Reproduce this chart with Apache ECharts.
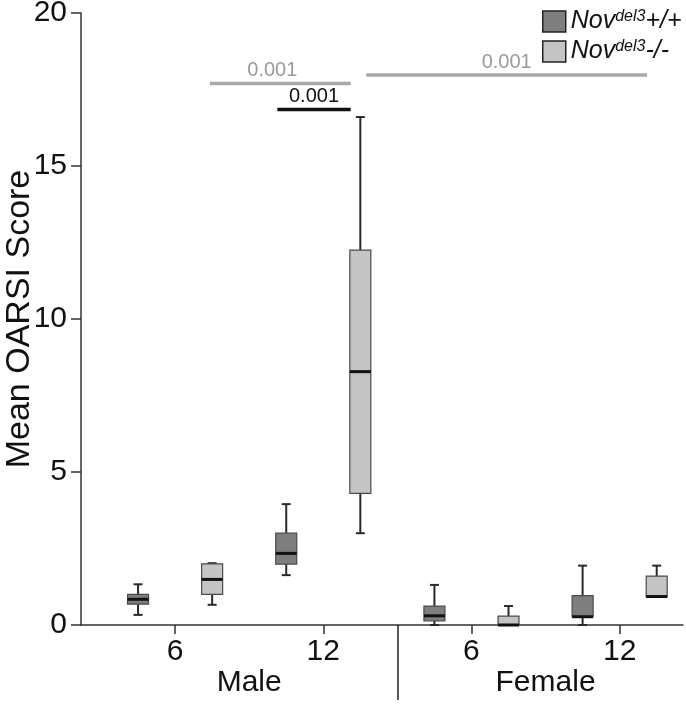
<!DOCTYPE html>
<html>
<head>
<meta charset="utf-8">
<script src="https://cdn.jsdelivr.net/npm/echarts@6/dist/echarts.min.js"></script>
<style>html,body{margin:0;padding:0;background:#fff}#c{width:686px;height:704px}</style>
</head>
<body>
<div id="c"></div>
<script>
// ---- data ----
const ageLabels = ['6', '12', '6', '12'];          // tick labels per group
const sexLabels = ['Male', 'Female'];
const groupPos = [0, 2, 4, 6];                        // group centres on x scale
const sexPos = [1, 5];
const dividerPos = [3];
// boxes: [min, q1, median, q3, max]
const wtBoxes = [
  [0.33, 0.68, 0.84, 1.00, 1.33],
  [1.63, 1.99, 2.34, 3.00, 3.95],
  [0.00, 0.13, 0.30, 0.62, 1.31],
  [0.00, 0.27, 0.27, 0.96, 1.94]
];
const koBoxes = [
  [0.66, 1.00, 1.49, 2.00, 2.02],
  [3.00, 4.30, 8.28, 12.25, 16.60],
  [0.00, 0.00, 0.00, 0.29, 0.62],
  [0.93, 0.93, 0.93, 1.60, 1.94]
];
// significance brackets (x from, x to, y level, label)
const brFrom = [0.47, 1.38, 2.58];
const brTo = [2.37, 2.37, 6.37];
const brY = [17.70, 16.85, 17.97];
const brLabel = ['0.001', '0.001', '0.001'];
const brDark = [false, true, false];

const FONT = 'Liberation Sans, Arial, Helvetica, sans-serif';
const DARK = '#7e7e7e', LIGHT = '#c4c4c4';
const XMIN = -1.27, XMAX = 6.855;

function boxData(arr, off) {
  return arr.map((b, i) => [groupPos[i] + off].concat(b));
}

function renderBox(params, api) {
  const x = api.value(0);
  const pMin = api.coord([x, api.value(1)]);
  const pQ1 = api.coord([x, api.value(2)]);
  const pMed = api.coord([x, api.value(3)]);
  const pQ3 = api.coord([x, api.value(4)]);
  const pMax = api.coord([x, api.value(5)]);
  const cx = pMin[0];
  const bw = 21, cw = 9;
  const ws = { stroke: '#2a2a2a', lineWidth: 2 };
  return {
    type: 'group',
    children: [
      { type: 'line', shape: { x1: cx, y1: pMin[1], x2: cx, y2: pQ1[1] }, style: ws },
      { type: 'line', shape: { x1: cx, y1: pQ3[1], x2: cx, y2: pMax[1] }, style: ws },
      { type: 'line', shape: { x1: cx - cw / 2, y1: pMin[1], x2: cx + cw / 2, y2: pMin[1] }, style: ws },
      { type: 'line', shape: { x1: cx - cw / 2, y1: pMax[1], x2: cx + cw / 2, y2: pMax[1] }, style: ws },
      { type: 'rect', shape: { x: cx - bw / 2, y: pQ3[1], width: bw, height: Math.max(pQ1[1] - pQ3[1], 0.5) },
        style: { fill: api.visual('color'), stroke: '#4a4a4a', lineWidth: 1.2 } },
      { type: 'line', shape: { x1: cx - bw / 2, y1: pMed[1], x2: cx + bw / 2, y2: pMed[1] },
        style: { stroke: '#111', lineWidth: 3 } }
    ]
  };
}

function renderBracket(params, api) {
  const i = params.dataIndex;
  const a = api.coord([api.value(0), api.value(2)]);
  const b = api.coord([api.value(1), api.value(2)]);
  const col = brDark[i] ? '#111' : '#a8a8a8';
  const tcol = brDark[i] ? '#111' : '#9a9a9a';
  const tx = (a[0] + b[0]) / 2 - (i === 0 ? 8 : 0);
  return {
    type: 'group',
    children: [
      { type: 'line', shape: { x1: a[0], y1: a[1], x2: b[0], y2: b[1] }, style: { stroke: col, lineWidth: 3.5 } },
      { type: 'text', x: tx, y: a[1] - 3,
        style: { text: brLabel[i], fill: tcol, font: '20px ' + FONT, align: 'center', verticalAlign: 'bottom' } }
    ]
  };
}

const chart = echarts.init(document.getElementById('c'), null, { renderer: 'canvas' });
const gridGeom = { left: 81, right: 3, top: 13, bottom: 79, containLabel: false, outerBoundsMode: 'none' };
chart.setOption({
  animation: false,
  backgroundColor: '#fff',
  textStyle: { fontFamily: FONT },
  grid: [Object.assign({}, gridGeom), Object.assign({}, gridGeom)],
  legend: {
    left: 537, top: 4, orient: 'vertical', itemGap: 5, itemWidth: 23, itemHeight: 21,
    icon: 'rect', selectedMode: false,
    data: [
      { name: 'wt', itemStyle: { color: DARK, borderColor: '#222', borderWidth: 1.5 } },
      { name: 'ko', itemStyle: { color: LIGHT, borderColor: '#222', borderWidth: 1.5 } }
    ],
    formatter: function (n) { return n === 'wt' ? '{i|Nov}{s|del3}{i|+/+}' : '{i|Nov}{s|del3}{i|-/-}'; },
    textStyle: {
      rich: {
        i: { fontSize: 25, fontStyle: 'italic', fontFamily: FONT, color: '#111' },
        s: { fontSize: 16, fontStyle: 'italic', fontFamily: FONT, color: '#111', verticalAlign: 'top' }
      }
    }
  },
  xAxis: [
    {
      type: 'value', gridIndex: 0, min: XMIN, max: XMAX, position: 'bottom',
      splitLine: { show: false },
      axisLine: { show: true, onZero: false, lineStyle: { color: '#333', width: 1.5 } },
      axisTick: { show: true, customValues: groupPos, length: 9, lineStyle: { color: '#333', width: 1.5 } },
      axisLabel: {
        customValues: groupPos, margin: 12, fontSize: 30, color: '#111', fontFamily: FONT,
        formatter: function (v) { return ageLabels[groupPos.indexOf(v)]; }
      }
    },
    {
      type: 'value', gridIndex: 1, min: XMIN, max: XMAX, position: 'bottom',
      splitLine: { show: false },
      axisLine: { show: false },
      axisTick: { show: true, customValues: dividerPos, length: 75, lineStyle: { color: '#222', width: 1.5 } },
      axisLabel: {
        customValues: sexPos, margin: 43, fontSize: 30, color: '#111', fontFamily: FONT,
        formatter: function (v) { return sexLabels[sexPos.indexOf(v)]; }
      }
    }
  ],
  yAxis: [
    {
      type: 'value', gridIndex: 0, min: 0, max: 20, interval: 5,
      splitLine: { show: false },
      axisLine: { show: true, onZero: false, lineStyle: { color: '#333', width: 1.5 } },
      axisTick: { show: true, length: 10, lineStyle: { color: '#333', width: 1.5 } },
      axisLabel: { fontSize: 30, color: '#111', margin: 14, fontFamily: FONT }
    },
    {
      type: 'value', gridIndex: 1, min: 0, max: 20, interval: 5,
      name: 'Mean OARSI Score', nameLocation: 'middle', nameGap: 44,
      nameTextStyle: { fontSize: 34, color: '#111', fontFamily: FONT },
      splitLine: { show: false },
      axisLine: { show: false, onZero: false },
      axisTick: { show: false },
      axisLabel: { show: false }
    }
  ],
  series: [
    {
      name: 'wt', type: 'custom', xAxisIndex: 0, yAxisIndex: 0,
      itemStyle: { color: DARK },
      encode: { x: 0, y: [1, 2, 3, 4, 5] },
      renderItem: renderBox, data: boxData(wtBoxes, -0.5), z: 3
    },
    {
      name: 'ko', type: 'custom', xAxisIndex: 0, yAxisIndex: 0,
      itemStyle: { color: LIGHT },
      encode: { x: 0, y: [1, 2, 3, 4, 5] },
      renderItem: renderBox, data: boxData(koBoxes, 0.5), z: 3
    },
    {
      name: 'brackets', type: 'custom', xAxisIndex: 0, yAxisIndex: 0,
      encode: { x: [0, 1], y: 2 },
      renderItem: renderBracket, silent: true,
      data: brFrom.map((f, i) => [f, brTo[i], brY[i]]), z: 4
    }
  ]
});
</script>
</body>
</html>
